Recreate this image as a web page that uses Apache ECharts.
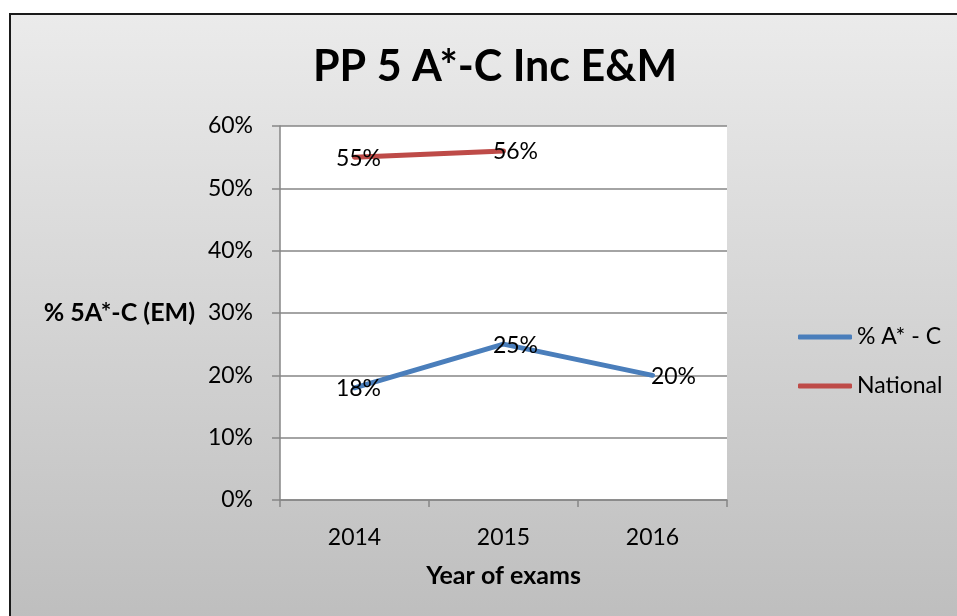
<!DOCTYPE html>
<html>
<head>
<meta charset="utf-8">
<script src="https://cdn.jsdelivr.net/npm/echarts@6/dist/echarts.min.js"></script>
<style>
  html, body { margin: 0; padding: 0; background: #fff; }
  #chart { width: 957px; height: 616px; }
</style>
</head>
<body>
<div id="chart"></div>
<script>
// data
const years = ['2014', '2015', '2016'];
const pctAC = [18, 25, 20];
const national = [55, 56, null];
const yTicks = [0, 10, 20, 30, 40, 50, 60];

const FONT = 'Lato, "Open Sans", sans-serif';
// excel nudges its centred labels a bit to the right, more so further along
const labelDx = [4, 12, 21];

const withLabels = (vals) => vals.map((v, i) => ({
  value: v,
  label: { offset: [labelDx[i], 1] },
}));

const chart = echarts.init(document.getElementById('chart'), null, { renderer: 'canvas' });

const option = {
  animation: false,
  backgroundColor: '#ffffff',
  graphic: [{
    type: 'rect',
    z: -10,
    shape: { x: 10, y: 14, width: 960, height: 620 },
    style: {
      fill: new echarts.graphic.LinearGradient(0, 0, 0, 1, [
        { offset: 0, color: '#ebebeb' },
        { offset: 1, color: '#bdbdbd' },
      ]),
      stroke: '#1a1a1a',
      lineWidth: 2,
    },
  }],
  title: {
    text: 'PP 5 A*-C Inc E&M',
    left: 490,
    top: 41,
    textAlign: 'center',
    textStyle: { fontFamily: FONT, fontSize: 43, fontWeight: 'bold', color: '#000' },
  },
  legend: {
    orient: 'vertical',
    left: 793,
    top: 320,
    itemWidth: 54,
    itemHeight: 5,
    itemGap: 25,
    icon: 'roundRect',
    textStyle: { fontFamily: FONT, fontSize: 23, color: '#000', lineHeight: 24 },
    data: ['% A* - C', 'National'],
  },
  grid: {
    left: 280,
    right: 230,
    top: 126,
    bottom: 116,
    show: true,
    backgroundColor: '#ffffff',
    borderWidth: 0,
  },
  xAxis: {
    type: 'category',
    data: years,
    boundaryGap: true,
    name: 'Year of exams',
    nameLocation: 'middle',
    nameGap: 63,
    nameTextStyle: { fontFamily: FONT, fontSize: 25, fontWeight: 'bold', color: '#000' },
    axisLine: { lineStyle: { color: '#868686', width: 1.5 } },
    axisTick: { show: true, length: 7, lineStyle: { color: '#868686', width: 1.5 } },
    axisLabel: { fontFamily: FONT, fontSize: 23, color: '#000', margin: 26 },
  },
  yAxis: {
    type: 'value',
    min: yTicks[0],
    max: yTicks[yTicks.length - 1],
    interval: 10,
    name: '% 5A*-C (EM)',
    nameLocation: 'middle',
    nameRotate: 0,
    nameGap: 85,
    nameTextStyle: { fontFamily: FONT, fontSize: 25, fontWeight: 'bold', color: '#000', align: 'right' },
    axisLine: { show: true, lineStyle: { color: '#868686', width: 1.5 } },
    axisTick: { show: true, length: 8, lineStyle: { color: '#868686', width: 1.5 } },
    axisLabel: { fontFamily: FONT, fontSize: 23, color: '#000', margin: 27, formatter: '{value}%' },
    splitLine: { lineStyle: { color: '#868686', width: 1.5 } },
  },
  series: [
    {
      name: '% A* - C',
      type: 'line',
      data: withLabels(pctAC),
      symbol: 'circle',
      symbolSize: 1,
      lineStyle: { color: '#4a7ebb', width: 5, cap: 'round' },
      itemStyle: { color: '#4a7ebb' },
      label: {
        show: true,
        position: 'inside',
        formatter: '{c}%',
        fontFamily: FONT,
        fontSize: 23,
        color: '#000',
      },
    },
    {
      name: 'National',
      type: 'line',
      data: withLabels(national),
      symbol: 'circle',
      symbolSize: 1,
      lineStyle: { color: '#be4b48', width: 5, cap: 'round' },
      itemStyle: { color: '#be4b48' },
      label: {
        show: true,
        position: 'inside',
        formatter: '{c}%',
        fontFamily: FONT,
        fontSize: 23,
        color: '#000',
      },
    },
  ],
};

chart.setOption(option);
</script>
</body>
</html>
